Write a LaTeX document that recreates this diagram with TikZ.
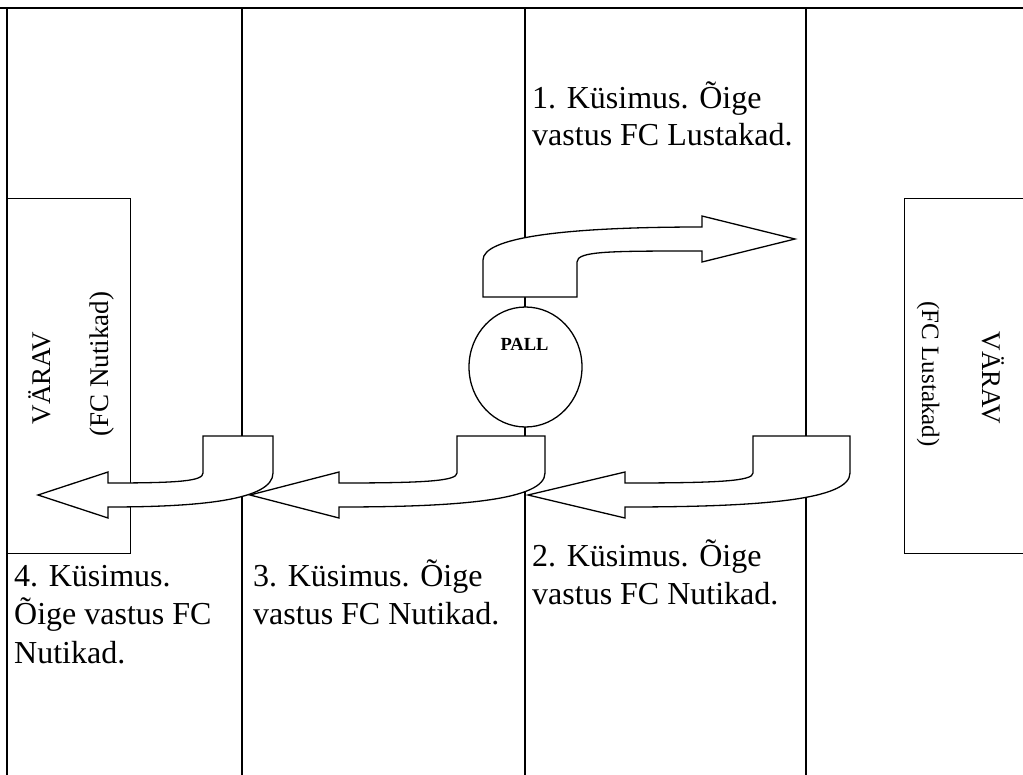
\documentclass[tikz,border=0pt]{standalone}
\usepackage{fontspec}
\setmainfont{Liberation Serif}
\usetikzlibrary{shapes.geometric}
\begin{document}
\begin{tikzpicture}[x=1pt,y=-1pt,
  tableline/.style={line width=1.3pt},
  tableborder/.style={line width=2.6pt},
  outl/.style={draw, line width=1.3pt, fill=white, line join=miter},
  qtext/.style={anchor=base west, inner sep=0pt, font=\fontsize{32}{37}\selectfont},
  gtext/.style={anchor=base, inner sep=0pt, font=\fontsize{25}{30}\selectfont},
  gtextbig/.style={anchor=base, inner sep=0pt, font=\fontsize{27}{32}\selectfont},
]
\useasboundingbox (0,0) rectangle (1023,774);
\clip (0,0) rectangle (1023,774);
% table
\coordinate (tl) at (7,8);
\coordinate (tr) at (1030,8);
\coordinate (bl) at (7,780);
\coordinate (c1t) at (242,8); \coordinate (c1b) at (242,780);
\coordinate (c2t) at (525,8); \coordinate (c2b) at (525,780);
\coordinate (c3t) at (806,8); \coordinate (c3b) at (806,780);
\draw[tableline] (c1t) -- (c1b);
\draw[tableline] (c2t) -- (c2b);
\draw[tableline] (c3t) -- (c3b);
\draw[tableborder] (0,8) -- (tr);
\draw[tableborder] (tl) -- (bl);
% gates
\node[outl, anchor=north west, minimum width=123pt, minimum height=355pt, inner sep=0pt] (gateL) at (7,198) {};
\node[outl, anchor=north west, minimum width=140pt, minimum height=355pt, inner sep=0pt] (gateR) at (904,198) {};
\node[gtextbig, rotate=90] (gL1) at (50,378) {VÄRAV};
\node[gtextbig, rotate=90] (gL2) at (108,364) {(FC Nutikad)};
\node[gtextbig, rotate=-90] (gR1) at (982,378) {VÄRAV};
\node[gtext, rotate=-90] (gR2) at (922,374) {(FC Lustakad)};
% arrow 1
\path[outl] (483,297) -- (483,260) .. controls (483,238) and (560,227) .. (702,227)
  -- (702,216) -- (795,239) -- (702,262) -- (702,251)
  .. controls (610,251) and (577,251) .. (577,262) -- (577,297) -- cycle;
% arrow 2
\path[outl] (753,436) -- (850,436) -- (850,473) .. controls (850,500) and (760,507) .. (625,507)
  -- (625,518) -- (528,495) -- (625,472) -- (625,483)
  .. controls (720,483) and (753,481) .. (753,473) -- cycle;
% arrow 3
\path[outl] (457,436) -- (545,436) -- (545,473) .. controls (545,500) and (460,507) .. (339,507)
  -- (339,518) -- (250,495) -- (339,472) -- (339,483)
  .. controls (425,483) and (457,481) .. (457,473) -- cycle;
% arrow 4
\path[outl] (203,436) -- (273,436) -- (273,473) .. controls (273,500) and (200,507) .. (108,507)
  -- (108,518) -- (38,495) -- (108,472) -- (108,483)
  .. controls (180,483) and (203,481) .. (203,473) -- cycle;
% ball
\node[outl, ellipse, minimum width=113pt, minimum height=120pt, inner sep=0pt] (ball) at (525.5,367) {};
\node[anchor=base, inner sep=0pt, font=\fontsize{18.5}{22}\selectfont\bfseries] (pall) at (524.5,350) {PALL};
% texts
\node[qtext] (t1a) at (532,108) {1. Küsimus. Õige};
\node[qtext] (t1b) at (532,145) {vastus FC Lustakad.};
\node[qtext] (t2a) at (532,566) {2. Küsimus. Õige};
\node[qtext] (t2b) at (532,604) {vastus FC Nutikad.};
\node[qtext] (t3a) at (253,586) {3. Küsimus. Õige};
\node[qtext] (t3b) at (253,624) {vastus FC Nutikad.};
\node[qtext] (t4a) at (14,586) {4. Küsimus.};
\node[qtext] (t4b) at (14,624) {Õige vastus FC};
\node[qtext] (t4c) at (14,663) {Nutikad.};
\end{tikzpicture}
\end{document}
